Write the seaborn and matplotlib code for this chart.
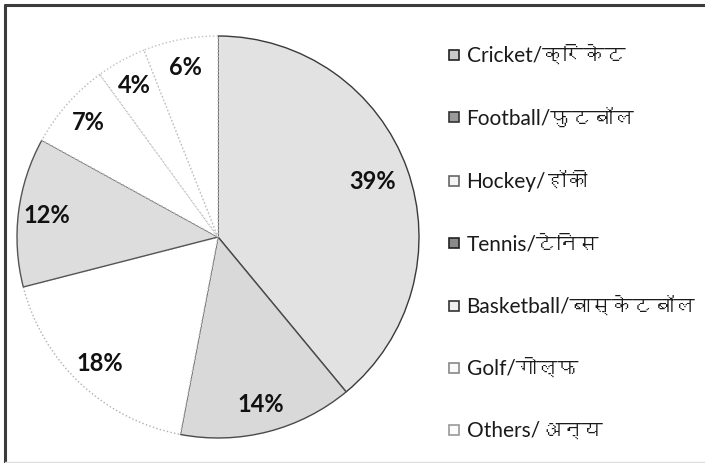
import matplotlib
matplotlib.use("Agg")
import matplotlib.pyplot as plt
from matplotlib import font_manager, ft2font
from matplotlib.lines import Line2D
import seaborn as sns

# Share of favourite sports
sports = ["Cricket/क्रिकेट", "Football/फुटबॉल", "Hockey/हॉकी", "Tennis/टेनिस",
          "Basketball/बास्केटबॉल", "Golf/गोल्फ", "Others/अन्य"]
shares = [39, 14, 18, 12, 7, 4, 6]
fills = ["#e2e2e2", "#d9d9d9", "#ffffff", "#dddddd", "#ffffff", "#ffffff", "#ffffff"]
edges = ["#3a3a3a", "#4a4a4a", "#b0b0b0", "#555555", "#b8b8b8", "#c0c0c0", "#c0c0c0"]
styles = ["-", "-", ":", "-", ":", ":", ":"]
marker_fills = ["#c8c8c8", "#9a9a9a", "#f4f4f4", "#8a8a8a", "#f0f0f0", "#fafafa", "#fcfcfc"]
marker_edges = ["#222222", "#333333", "#666666", "#222222", "#333333", "#888888", "#999999"]

sns.set_theme(style="white")


def family_with(char):
    for entry in font_manager.fontManager.ttflist:
        try:
            if ord(char) in ft2font.FT2Font(entry.fname).get_charmap():
                return entry.name
        except Exception:
            continue
    return None


deva = family_with("क")
families = ["Lato"] + ([deva] if deva else []) + ["DejaVu Sans"]
plt.rcParams["font.family"] = families

fig = plt.figure(figsize=(7.05, 4.63), dpi=100)
W, H = 705, 463
cx, cy, r = 218, 237, 201
ax = fig.add_axes([(cx - r) / W, (H - cy - r) / H, 2 * r / W, 2 * r / H])

wedges, texts, autotexts = ax.pie(
    shares, colors=fills, startangle=90, counterclock=False,
    autopct="%d%%", pctdistance=0.86, labels=None,
    wedgeprops=dict(linewidth=1.0),
    textprops=dict(fontsize=17, fontweight="bold", color="#111111",
                   family=["Lato", "DejaVu Sans"]),
)
for w, ec, ls in zip(wedges, edges, styles):
    w.set_edgecolor(ec)
    w.set_linestyle(ls)
# the largest slice carries its label a little further in
x0, y0 = autotexts[0].get_position()
autotexts[0].set_position((x0 * 0.82 / 0.86, y0 * 0.82 / 0.86))
ax.set_xlim(-1.0, 1.0)
ax.set_ylim(-1.0, 1.0)
ax.set_aspect("equal")
ax.axis("off")

handles = [
    Line2D([], [], marker="s", linestyle="none", markersize=7.5,
           markerfacecolor=mf, markeredgecolor=me, markeredgewidth=1.2)
    for mf, me in zip(marker_fills, marker_edges)
]
fig.legend(handles, sports, loc="upper left", bbox_to_anchor=(429 / W, 1 - 27 / H),
           frameon=False, fontsize=15, labelspacing=2.02, handlelength=0.6,
           handletextpad=0.3, labelcolor="#1a1a1a")

# Frame lines around the chart area
fig.add_artist(Line2D([5 / W, 5 / W], [0, 1 - 5 / H], color="#3c3c3c", linewidth=2.2,
                      transform=fig.transFigure))
fig.add_artist(Line2D([5 / W, 1], [1 - 5 / H, 1 - 5 / H], color="#3c3c3c", linewidth=2.2,
                      transform=fig.transFigure))
fig.add_artist(Line2D([5 / W, 1], [1.5 / H, 1.5 / H], color="#dddddd", linewidth=1.0,
                      transform=fig.transFigure))

fig.savefig("out.png", dpi=100, facecolor="white")
